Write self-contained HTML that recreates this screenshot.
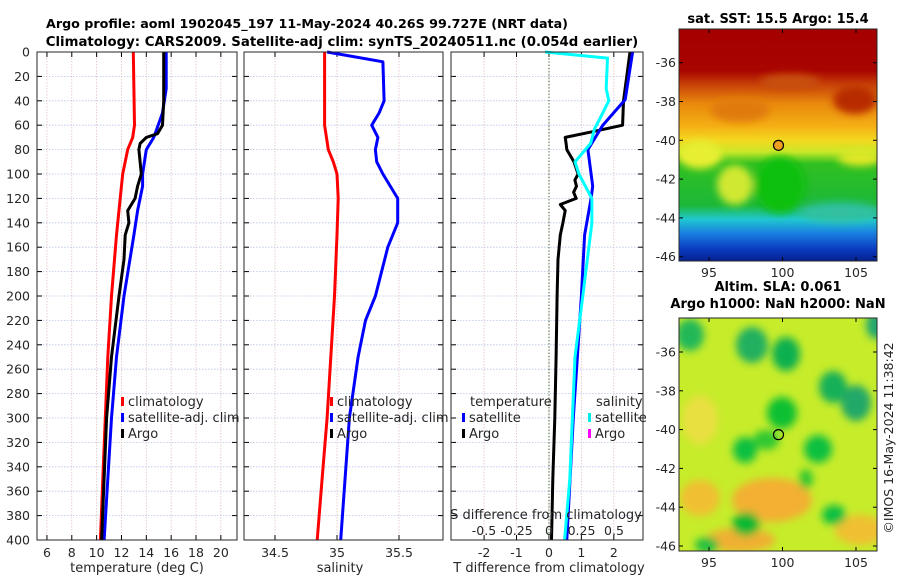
<!DOCTYPE html>
<html><head><meta charset="utf-8">
<style>
html,body{margin:0;padding:0;background:#fff;}
svg{display:block;font-family:"DejaVu Sans","Liberation Sans",sans-serif;}
</style></head>
<body>
<svg id="fig" width="900" height="580" viewBox="0 0 900 580" xmlns="http://www.w3.org/2000/svg">
<defs>
<linearGradient id="sstGrad" x1="0" y1="0" x2="0" y2="1">
<stop offset="0" stop-color="#a50000"/><stop offset="0.18" stop-color="#a80400"/>
<stop offset="0.24" stop-color="#c84208"/><stop offset="0.32" stop-color="#e8880c"/>
<stop offset="0.42" stop-color="#f5b014"/><stop offset="0.48" stop-color="#f4d820"/>
<stop offset="0.53" stop-color="#c8e828"/><stop offset="0.58" stop-color="#30c020"/>
<stop offset="0.76" stop-color="#1cb838"/><stop offset="0.82" stop-color="#20c8d0"/>
<stop offset="0.88" stop-color="#1a80e0"/><stop offset="0.95" stop-color="#0a3ac0"/>
<stop offset="1" stop-color="#06208f"/>
</linearGradient>
<filter id="blur3"><feGaussianBlur stdDeviation="4"/></filter>
<clipPath id="clipMap1"><rect x="679" y="29" width="198" height="232"/></clipPath>
<clipPath id="clipMap2"><rect x="679" y="318" width="198" height="233"/></clipPath>
</defs>
<g id="root"></g>
</svg>
<script>
// ---- data ----
const depthTicks=[0,20,40,60,80,100,120,140,160,180,200,220,240,260,280,300,320,340,360,380,400];
const tempTicks=[6,8,10,12,14,16,18,20];
const salTicks=[34.5,35,35.5];
const tdiffTicks=[-2,-1,0,1,2];
const sdiffTicks=[-0.5,-0.25,0,0.25,0.5];
const sdiffTickLabels=["-0.5","-0.25","0","0.25","0.5"];
const latTicks=[-36,-38,-40,-42,-44,-46];
const lonTicks=[95,100,105];

const tClimDepth=[0,60,70,80,100,120,150,200,250,300,350,400];
const tClimVal=[12.95,13.05,12.9,12.5,12.1,11.9,11.6,11.2,10.9,10.7,10.5,10.3];
const tSatDepth=[0,30,50,70,80,100,110,130,150,200,250,300,350,400];
const tSatVal=[15.6,15.6,15.3,14.6,14.0,13.7,13.7,13.3,13.0,12.2,11.6,11.2,10.9,10.6];
const tArgoDepth=[0,40,60,67,70,75,80,90,100,110,120,125,130,140,150,170,200,250,300,350,400];
const tArgoVal=[15.4,15.4,15.3,14.9,14.0,13.5,13.4,13.5,13.6,13.3,13.1,12.8,12.5,12.6,12.3,12.2,11.8,11.2,10.8,10.6,10.4];

const sClimDepth=[0,60,80,90,100,120,150,200,250,300,350,400];
const sClimVal=[34.9,34.9,34.93,34.97,35.0,35.01,35.0,34.98,34.95,34.92,34.88,34.84];
const sSatDepth=[0,8,40,50,60,70,80,90,100,120,140,160,200,220,250,300,400];
const sSatVal=[34.92,35.37,35.38,35.34,35.28,35.33,35.31,35.32,35.37,35.49,35.49,35.41,35.31,35.23,35.17,35.1,35.03];

const dTSatDepth=[0,39,60,80,110,120,150,200,300,400];
const dTSatVal=[2.58,2.35,1.66,1.2,1.35,1.3,1.1,1.0,0.75,0.55];
const dTArgoDepth=[0,40,60,65,70,75,80,90,100,105,110,115,120,125,130,140,150,170,200,250,300,350,400];
const dTArgoVal=[2.5,2.3,2.27,1.4,0.5,0.53,0.55,0.77,0.9,0.8,0.85,0.76,0.84,0.35,0.5,0.43,0.35,0.28,0.25,0.22,0.18,0.12,0.08];
const dSSatDepth=[0,5,30,40,55,63,75,90,100,120,140,200,250,300,350,400];
const dSSatVal=[-0.03,0.45,0.44,0.46,0.39,0.35,0.32,0.2,0.23,0.33,0.33,0.26,0.2,0.18,0.16,0.12];

const NS="http://www.w3.org/2000/svg";
const root=document.getElementById('root');
function mk(tag,attrs,parent){const e=document.createElementNS(NS,tag);for(const k in attrs)e.setAttribute(k,attrs[k]);(parent||root).appendChild(e);return e;}
function txt(s,attrs,parent){const e=mk('text',attrs,parent);e.textContent=s;return e;}

const Y0=52,Y1=540;
const yD=d=>Y0+d*(Y1-Y0)/400;
const panels=[
 {name:'temperature-panel',x0:37,x1:237,vmin:5.2,vmax:21.3,ticks:tempTicks,label:'temperature (deg C)',lx:137},
 {name:'salinity-panel',x0:244,x1:443,vmin:34.25,vmax:35.855,ticks:salTicks,label:'salinity',lx:340},
 {name:'difference-panel',x0:451,x1:643,vmin:-3.02,vmax:2.9,ticks:tdiffTicks,label:'T difference from climatology',lx:549}
];
panels.forEach(p=>{p.sx=v=>p.x0+(v-p.vmin)*(p.x1-p.x0)/(p.vmax-p.vmin);});
const sdx=v=>549+v*130;

panels.forEach((p,i)=>{
 const g=mk('g',{});
 
 
 depthTicks.forEach(d=>{
  const l=mk('line',{x1:p.x0,x2:p.x1,y1:yD(d),y2:yD(d),stroke:'#b8c4e8','stroke-width':0.8,'stroke-dasharray':'1.5,1.5'},g);
  
  
 });
 p.ticks.forEach(t=>{
  const x=p.sx(t);
  const l=mk('line',{x1:x,x2:x,y1:Y0,y2:Y1,stroke:'#e0c0c0','stroke-width':0.8,'stroke-dasharray':'1.5,1.5'},g);
  
  
  mk('line',{x1:x,x2:x,y1:Y1,y2:Y1-5,stroke:'#000','stroke-width':1},g);
  mk('line',{x1:x,x2:x,y1:Y0,y2:Y0+5,stroke:'#000','stroke-width':1},g);
  const tl=txt(String(t),{x:x,y:557,'font-size':12.5,'text-anchor':'middle',fill:'#262626'},g);
  
  
 });
 depthTicks.forEach(d=>{
  mk('line',{x1:p.x0,x2:p.x0+5,y1:yD(d),y2:yD(d),stroke:'#000','stroke-width':1},g);
  mk('line',{x1:p.x1,x2:p.x1-5,y1:yD(d),y2:yD(d),stroke:'#000','stroke-width':1},g);
 });
 const xl=txt(p.label,{x:p.lx,y:572,'font-size':13,'text-anchor':'middle',fill:'#262626'},g);
 
 
});
depthTicks.forEach(d=>{
 const t=txt(String(d),{x:30,y:yD(d)+4.5,'font-size':12.5,'text-anchor':'end',fill:'#262626'});
 
 
});

const zl=mk('line',{x1:sdx(0),x2:sdx(0),y1:Y0,y2:Y1,stroke:'#2a5a2a','stroke-width':1,'stroke-dasharray':'1.2,2'});



function series(sx,depths,vals,color,name,w){
 const pts=depths.map((d,k)=>sx(vals[k]).toFixed(1)+','+yD(d).toFixed(1)).join(' ');
 const pl=mk('polyline',{points:pts,fill:'none',stroke:color,'stroke-width':w||3,'stroke-linejoin':'round'});
 
 
}
const P=panels;
series(P[0].sx,tClimDepth,tClimVal,'#ff0000','temp-climatology-line');
series(P[0].sx,tSatDepth,tSatVal,'#0000ff','temp-satellite-line');
series(P[0].sx,tArgoDepth,tArgoVal,'#000000','temp-argo-line');
series(P[1].sx,sClimDepth,sClimVal,'#ff0000','sal-climatology-line');
series(P[1].sx,sSatDepth,sSatVal,'#0000ff','sal-satellite-line');
series(P[2].sx,dTArgoDepth,dTArgoVal,'#000000','tdiff-argo-line');
series(P[2].sx,dTSatDepth,dTSatVal,'#0000ff','tdiff-satellite-line');
series(sdx,dSSatDepth,dSSatVal,'#00ffff','sdiff-satellite-line');

panels.forEach(p=>{
 const r=mk('rect',{x:p.x0,y:Y0,width:p.x1-p.x0,height:Y1-Y0,fill:'none',stroke:'#262626','stroke-width':1});
 
 
});

function legend(x,y,color,label,name){
 const g=mk('g',{});
 
 
 if(color) mk('rect',{x:x,y:y-9,width:3,height:9,fill:color},g);
 txt(label,{x:x+(color?7:0),y:y,'font-size':13,fill:'#262626'},g);
}
legend(121,406,'#ff0000','climatology','legend-climatology');
legend(121,422,'#0000ff','satellite-adj. clim','legend-satellite');
legend(121,438,'#000000','Argo','legend-argo');
legend(330,406,'#ff0000','climatology','legend-climatology-2');
legend(330,422,'#0000ff','satellite-adj. clim','legend-satellite-2');
legend(330,438,'#000000','Argo','legend-argo-2');
legend(470,406,null,'temperature','legend-temperature-header');
legend(462,422,'#0000ff','satellite','legend-t-satellite');
legend(462,438,'#000000','Argo','legend-t-argo');
legend(596,406,null,'salinity','legend-salinity-header');
legend(588,422,'#00e8e8','satellite','legend-s-satellite');
legend(588,438,'#ff00ff','Argo','legend-s-argo');

const st=txt('S difference from climatology',{x:546,y:519,'font-size':13,'text-anchor':'middle',fill:'#262626'});


sdiffTicks.forEach((v,k)=>{
 const t=txt(sdiffTickLabels[k],{x:sdx(v),y:535,'font-size':12.5,'text-anchor':'middle',fill:'#262626'});
 
 
});

const t1=txt('Argo profile: aoml 1902045_197 11-May-2024 40.26S 99.727E (NRT data)',{x:307,y:28,'font-size':12.7,'font-weight':'bold','text-anchor':'middle',fill:'#000'});


const t2=txt('Climatology: CARS2009. Satellite-adj clim: synTS_20240511.nc (0.054d earlier)',{x:342,y:46,'font-size':13.3,'font-weight':'bold','text-anchor':'middle',fill:'#000'});



// ---- maps ----
const MX0=679,MX1=877;
const lonX=lo=>709+(lo-95)*14.7;
function mapAxes(top,bottom,lat36y,name,titles){
 const latY=la=>lat36y+(-36-la)*19.4;
 const g=mk('g',{});
 
 
 latTicks.forEach(la=>{
  const y=latY(la);
  mk('line',{x1:MX0,x2:MX0+4,y1:y,y2:y,stroke:'#000'},g);
  mk('line',{x1:MX1,x2:MX1-4,y1:y,y2:y,stroke:'#000'},g);
  txt(String(la),{x:676,y:y+4.5,'font-size':12.5,'text-anchor':'end',fill:'#262626'},g);
 });
 lonTicks.forEach(lo=>{
  const x=lonX(lo);
  mk('line',{x1:x,x2:x,y1:bottom,y2:bottom-4,stroke:'#000'},g);
  mk('line',{x1:x,x2:x,y1:top,y2:top+4,stroke:'#000'},g);
  txt(String(lo),{x:x,y:bottom+16,'font-size':12.5,'text-anchor':'middle',fill:'#262626'},g);
 });
 mk('rect',{x:MX0,y:top,width:MX1-MX0,height:bottom-top,fill:'none',stroke:'#262626'},g);
 titles.forEach((s,k)=>{
  const t=txt(s,{x:778,y:(titles.length===1)?23:(top-27+k*17),'font-size':13,'font-weight':'bold','text-anchor':'middle',fill:'#000'});
  
  
 });
 return latY;
}
const m1=mk('g',{'clip-path':'url(#clipMap1)'});


mk('rect',{x:MX0,y:29,width:198,height:232,fill:'url(#sstGrad)'},m1);
const m1b=mk('g',{filter:'url(#blur3)'},m1);
mk('ellipse',{cx:790,cy:82,rx:30,ry:8,fill:'#c85010'},m1b);
mk('ellipse',{cx:855,cy:100,rx:22,ry:14,fill:'#b82c04'},m1b);
mk('ellipse',{cx:740,cy:110,rx:30,ry:12,fill:'#e07a10'},m1b);
mk('ellipse',{cx:700,cy:155,rx:22,ry:14,fill:'#e8ef30'},m1b);
mk('ellipse',{cx:735,cy:185,rx:18,ry:20,fill:'#d0e830'},m1b);
mk('ellipse',{cx:860,cy:158,rx:22,ry:8,fill:'#e0e828'},m1b);
mk('ellipse',{cx:780,cy:185,rx:25,ry:28,fill:'#10c010'},m1b);
mk('ellipse',{cx:840,cy:212,rx:40,ry:10,fill:'#30c0a0'},m1b);
const latY1=mapAxes(29,261,62.7,'sst-map',['sat. SST: 15.5 Argo: 15.4']);
const mk1=mk('circle',{cx:lonX(99.727),cy:latY1(-40.26),r:5,fill:'#f0a020',stroke:'#000','stroke-width':1.2});


const m2=mk('g',{'clip-path':'url(#clipMap2)'});


mk('rect',{x:MX0,y:318,width:198,height:233,fill:'#c6ec2a'},m2);
const m2b=mk('g',{filter:'url(#blur3)'},m2);
[[772,500,40,22,'#f3b030'],[700,498,20,18,'#f0c030'],[740,540,35,12,'#f0b030'],[860,530,25,15,'#f0c030'],[700,420,18,25,'#e8e040'],
 [690,335,14,16,'#20b858'],[752,345,16,18,'#20b060'],[786,354,14,17,'#10b050'],[833,387,14,16,'#18b058'],[856,403,15,18,'#20a868'],
 [782,413,15,16,'#10c030'],[766,440,13,10,'#30c830'],[818,449,14,14,'#10c040'],[745,450,12,13,'#10c040'],[746,524,14,12,'#10b830'],
 [834,515,12,10,'#10c040'],[876,325,10,14,'#20a870'],[806,479,7,10,'#30c830'],[707,545,12,8,'#20c040']]
 .forEach(e=>mk('ellipse',{cx:e[0],cy:e[1],rx:e[2],ry:e[3],fill:e[4]},m2b));
const latY2=mapAxes(318,551,352,'sla-map',['Altim. SLA: 0.061','Argo h1000: NaN h2000: NaN']);
const mk2=mk('circle',{cx:lonX(99.727),cy:latY2(-40.26),r:5,fill:'none',stroke:'#000','stroke-width':1.2});


const cp=txt('©IMOS 16-May-2024 11:38:42',{x:0,y:0,'font-size':12.5,'text-anchor':'middle',fill:'#262626',transform:'translate(893,438) rotate(-90)'});


</script>
</body></html>
